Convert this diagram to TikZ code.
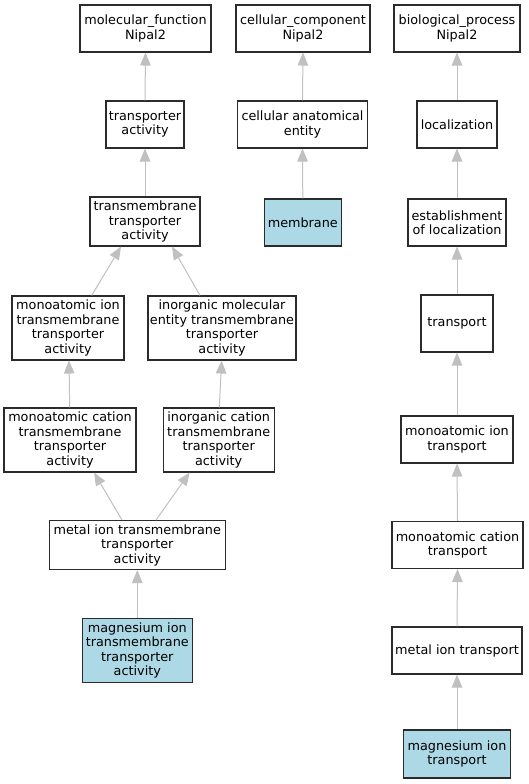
\documentclass[tikz,border=0pt]{standalone}
\usepackage{fontspec}
\setmainfont{DejaVu Sans}
\usetikzlibrary{arrows.meta}
\definecolor{edgec}{HTML}{C0C0C0}
\definecolor{boxc}{HTML}{2B2B2B}
\definecolor{hl}{HTML}{ADD8E6}
\tikzset{
 term/.style={draw=boxc, line width=1.05pt, fill=white, align=center, inner sep=0pt, font=\fontsize{12.8}{14.5}\selectfont},
 hit/.style={term, fill=hl},
 edge/.style={draw=edgec, line width=1pt, -{Triangle[length=13pt,width=10.5pt]}}
}
\begin{document}
\begin{tikzpicture}[x=1pt,y=-1pt]
\useasboundingbox (0,0) rectangle (529,784);
% column 1
\node[term, minimum width=131, minimum height=47] (mf) at (145.5,28.5) {molecular\_function\\Nipal2};
\node[term, minimum width=78, minimum height=47] (ta) at (145,124.5) {transporter\\activity};
\node[term, minimum width=110, minimum height=49] (tmt) at (145,221.5) {transmembrane\\transporter\\activity};
\node[term, minimum width=112, minimum height=64] (mit) at (68,328) {monoatomic ion\\transmembrane\\transporter\\activity};
\node[term, minimum width=148, minimum height=64] (imt) at (222,328) {inorganic molecular\\entity transmembrane\\transporter\\activity};
\node[term, minimum width=132, minimum height=64] (mct) at (70,440) {monoatomic cation\\transmembrane\\transporter\\activity};
\node[term, minimum width=111, minimum height=64] (ict) at (218.7,440) {inorganic cation\\transmembrane\\transporter\\activity};
\node[term, minimum width=176, minimum height=49] (mtt) at (137.3,545) {metal ion transmembrane\\transporter\\activity};
\node[hit, minimum width=110, minimum height=64] (mgt) at (137.3,650.5) {magnesium ion\\transmembrane\\transporter\\activity};
% column 2
\node[term, minimum width=134, minimum height=47] (cc) at (303,28.5) {cellular\_component\\Nipal2};
\node[term, minimum width=130, minimum height=47] (cae) at (302.5,124.5) {cellular anatomical\\entity};
\node[hit, minimum width=77, minimum height=47] (mem) at (302.8,222.5) {membrane};
% column 3
\node[term, minimum width=126, minimum height=47] (bp) at (457,28.5) {biological\_process\\Nipal2};
\node[term, minimum width=80, minimum height=47] (loc) at (457,124.5) {localization};
\node[term, minimum width=98, minimum height=47] (eol) at (457,222.5) {establishment\\of localization};
\node[term, minimum width=72, minimum height=57] (tr) at (457,323.5) {transport};
\node[term, minimum width=112, minimum height=47] (mio) at (457,439.5) {monoatomic ion\\transport};
\node[term, minimum width=131, minimum height=47] (mca) at (457.5,545) {monoatomic cation\\transport};
\node[term, minimum width=130, minimum height=47] (mel) at (457,650.5) {metal ion transport};
\node[hit, minimum width=107, minimum height=48] (mgi) at (457,754) {magnesium ion\\transport};
% edges
\draw[edge] (ta.north) -- (mf.south);
\draw[edge] (tmt.north) -- (ta.south);
\draw[edge] ([xshift=23.7pt]mit.north) -- ([xshift=-24pt]tmt.south);
\draw[edge] ([xshift=-22pt]imt.north) -- ([xshift=27pt]tmt.south);
\draw[edge] ([xshift=-0.3pt]mct.north) -- ([xshift=1pt]mit.south);
\draw[edge] ([xshift=0.6pt]ict.north) -- ([xshift=3pt]ict.north |- imt.south);
\draw[edge] ([xshift=-15.3pt]mtt.north) -- ([xshift=24pt]mct.south);
\draw[edge] ([xshift=18.7pt]mtt.north) -- ([xshift=-29pt]ict.south);
\draw[edge] (mgt.north) -- (mtt.south);
\draw[edge] (cae.north) -- (cc.south);
\draw[edge] (mem.north) -- (cae.south);
\draw[edge] (loc.north) -- (bp.south);
\draw[edge] (eol.north) -- (loc.south);
\draw[edge] (tr.north) -- (eol.south);
\draw[edge] (mio.north) -- (tr.south);
\draw[edge] (mca.north) -- (mio.south);
\draw[edge] (mel.north) -- (mca.south);
\draw[edge] (mgi.north) -- (mel.south);
\end{tikzpicture}
\end{document}
